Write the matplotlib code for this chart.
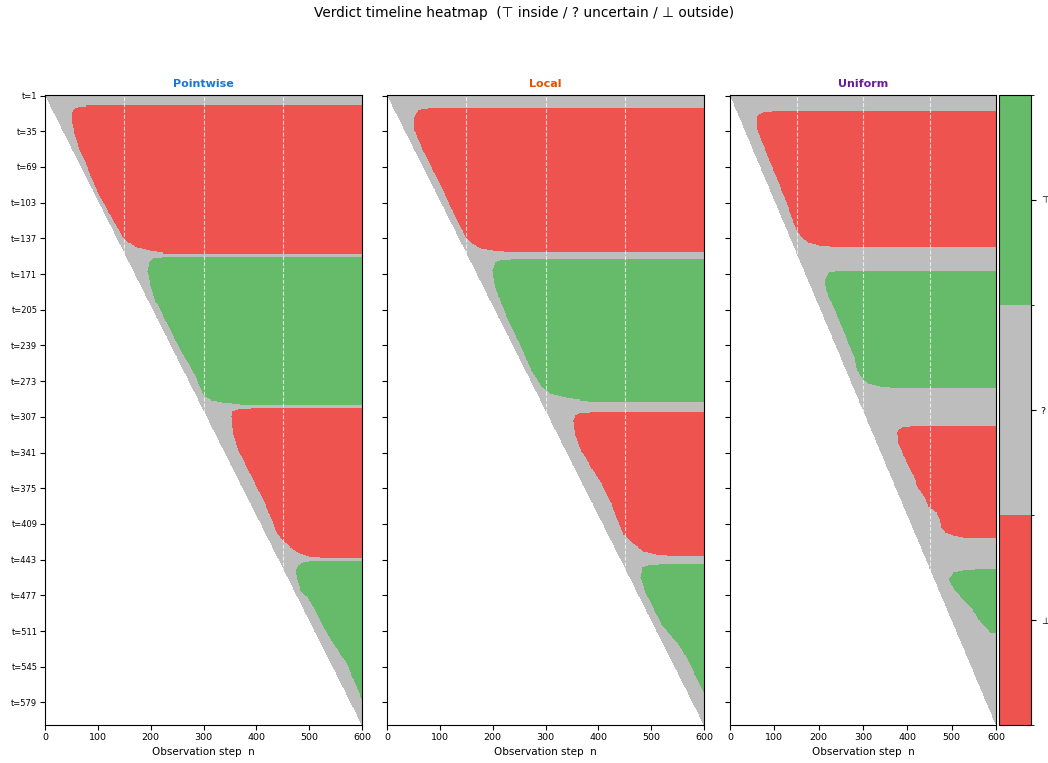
import numpy as np
import matplotlib
matplotlib.use("Agg")
import matplotlib.pyplot as plt
from matplotlib.colors import ListedColormap, BoundaryNorm

# ---------------- data ----------------
N_STEPS = 600
panel_names = ["Pointwise", "Local", "Uniform"]
panel_title_colors = ["#1976D2", "#E65100", "#6A1B9A"]
verdict_values = [-1, 0, 1]
verdict_labels = ["\u22a5", "?", "\u22a4"]
verdict_colors = ["#EF5350", "#BDBDBD", "#66BB6A"]
dashed_steps = [150, 300, 450]
ytick_t = [1, 35, 69, 103, 137, 171, 205, 239, 273, 307, 341, 375, 409,
           443, 477, 511, 545, 579]
xticks = [0, 100, 200, 300, 400, 500, 600]

# Verdict onset boundaries: for each time t of a block,
# the observation step n at which the definite verdict begins.
# Pointwise
pw_out1_t = [11, 12, 13, 15, 18, 28, 37, 50, 66, 85, 103, 122, 135, 141, 146, 149, 151]
pw_out1_n = [78, 63, 57, 53, 51, 52, 55, 63, 77, 92, 110, 131, 146, 158, 174, 199, 224]
pw_in1_t = [155, 156, 160, 169, 182, 197, 213, 229, 245, 259, 275, 284, 288, 291, 293, 295]
pw_in1_n = [221, 205, 196, 194, 199, 209, 226, 242, 257, 275, 290, 298, 302, 315, 335, 370]
pw_out2_t = [299, 300, 302, 307, 323, 339, 355, 370, 386, 402, 418, 424, 431, 437, 440, 441]
pw_out2_n = [390, 365, 354, 352, 355, 366, 382, 397, 413, 426, 439, 448, 464, 482, 500, 520]
pw_in2_t = [445, 446, 449, 453, 462, 472, 478, 494, 510, 526, 542, 558, 573, 577]
pw_in2_n = [500, 488, 478, 475, 477, 483, 495, 514, 530, 549, 571, 584, 597, 600]
# Local
lc_out1_t = [13, 14, 15, 18, 22, 34, 41, 57, 72, 88, 104, 120, 136, 142, 147, 149, 150]
lc_out1_n = [78, 65, 59, 54, 52, 52, 57, 71, 87, 103, 117, 132, 149, 160, 178, 200, 222]
lc_in1_t = [157, 158, 160, 168, 183, 199, 215, 231, 247, 263, 278, 285, 289, 291, 292]
lc_in1_n = [235, 213, 205, 199, 204, 216, 229, 245, 259, 273, 292, 308, 339, 365, 380]
lc_out2_t = [303, 304, 306, 311, 324, 340, 356, 371, 387, 403, 419, 428, 435, 438, 439]
lc_out2_n = [385, 364, 356, 352, 355, 368, 387, 406, 422, 434, 447, 466, 485, 510, 530]
lc_in2_t = [448, 449, 451, 460, 473, 489, 505, 520, 536, 552, 568, 571]
lc_in2_n = [515, 494, 483, 479, 488, 504, 519, 545, 567, 582, 598, 600]
# Uniform
un_out1_t = [16, 17, 19, 22, 31, 41, 57, 72, 88, 104, 120, 129, 136, 141, 144, 145]
un_out1_n = [95, 74, 65, 60, 60, 68, 83, 98, 113, 128, 141, 150, 162, 177, 200, 225]
un_in1_t = [169, 170, 172, 177, 187, 196, 206, 221, 237, 253, 263, 270, 275, 278, 279]
un_in1_n = [236, 224, 218, 214, 216, 226, 237, 252, 267, 282, 286, 297, 312, 338, 360]
un_out2_t = [316, 317, 319, 322, 332, 344, 357, 366, 373, 382, 392, 398, 404, 411, 417, 420, 422]
un_out2_n = [405, 388, 381, 376, 380, 391, 406, 417, 421, 436, 447, 466, 472, 475, 485, 504, 526]
un_in2_t = [452, 453, 455, 462, 468, 478, 488, 494, 500, 507, 512, 513]
un_in2_n = [553, 526, 504, 493, 500, 519, 541, 553, 560, 575, 586, 600]

panel_blocks = [
    [(-1, pw_out1_t, pw_out1_n), (1, pw_in1_t, pw_in1_n),
     (-1, pw_out2_t, pw_out2_n), (1, pw_in2_t, pw_in2_n)],
    [(-1, lc_out1_t, lc_out1_n), (1, lc_in1_t, lc_in1_n),
     (-1, lc_out2_t, lc_out2_n), (1, lc_in2_t, lc_in2_n)],
    [(-1, un_out1_t, un_out1_n), (1, un_in1_t, un_in1_n),
     (-1, un_out2_t, un_out2_n), (1, un_in2_t, un_in2_n)],
]


def build_matrix(blocks):
    rows = np.arange(N_STEPS)[:, None]
    cols = np.arange(N_STEPS)[None, :]
    M = np.zeros((N_STEPS, N_STEPS))
    M[cols < rows] = np.nan
    steps = np.arange(N_STEPS)
    for val, tl, nl in blocks:
        ts = np.arange(tl[0], tl[-1] + 1)
        onset = np.interp(ts, tl, nl)
        for t, o in zip(ts, onset):
            r = t - 1
            sel = (steps >= o) & (steps >= r)
            M[r, sel] = val
    return M


# ---------------- figure ----------------
W, H = 1048, 763
fig = plt.figure(figsize=(W / 100, H / 100), dpi=100)

cmap = ListedColormap(verdict_colors)
cmap.set_bad("white")
norm = BoundaryNorm([-1.5, -0.5, 0.5, 1.5], cmap.N)

ax_px = [(45, 317), (387, 317), (730, 266)]
top_px, bot_px = 95, 725
axes = []
for i, (x0, w) in enumerate(ax_px):
    ax = fig.add_axes([x0 / W, 1 - bot_px / H, w / W, (bot_px - top_px) / H])
    M = build_matrix(panel_blocks[i])
    im = ax.imshow(M, cmap=cmap, norm=norm, aspect="auto", interpolation="nearest",
                   extent=(0, N_STEPS, N_STEPS - 0.5, -0.5))
    for s in dashed_steps:
        ax.axvline(s, color="white", ls="--", lw=0.8, alpha=0.7)
    ax.set_xlim(0, N_STEPS)
    ax.set_ylim(N_STEPS - 0.5, -0.5)
    ax.set_xticks(xticks)
    ax.tick_params(axis="x", labelsize=6.8, length=3.5, pad=2)
    ax.set_yticks([t - 1 for t in ytick_t])
    if i == 0:
        ax.set_yticklabels([f"t={t}" for t in ytick_t])
    else:
        ax.set_yticklabels([])
    ax.tick_params(axis="y", labelsize=6.0, length=3.5, pad=2)
    ax.set_xlabel("Observation step  n", fontsize=7.5, labelpad=4)
    ax.set_title(panel_names[i], color=panel_title_colors[i], fontsize=8,
                 fontweight="bold", pad=5.8)
    axes.append(ax)

cax = fig.add_axes([999 / W, 1 - bot_px / H, 32 / W, (bot_px - top_px) / H])
cb = fig.colorbar(im, cax=cax, ticks=verdict_values)
cb.ax.set_yticklabels(verdict_labels)
cb.ax.tick_params(labelsize=6.8, length=3.5)

fig.text(0.5, 1 - 13 / H, "Verdict timeline heatmap  (\u22a4 inside / ? uncertain / \u22a5 outside)",
         ha="center", va="center", fontsize=9.8)

fig.savefig("out.png", dpi=100)
